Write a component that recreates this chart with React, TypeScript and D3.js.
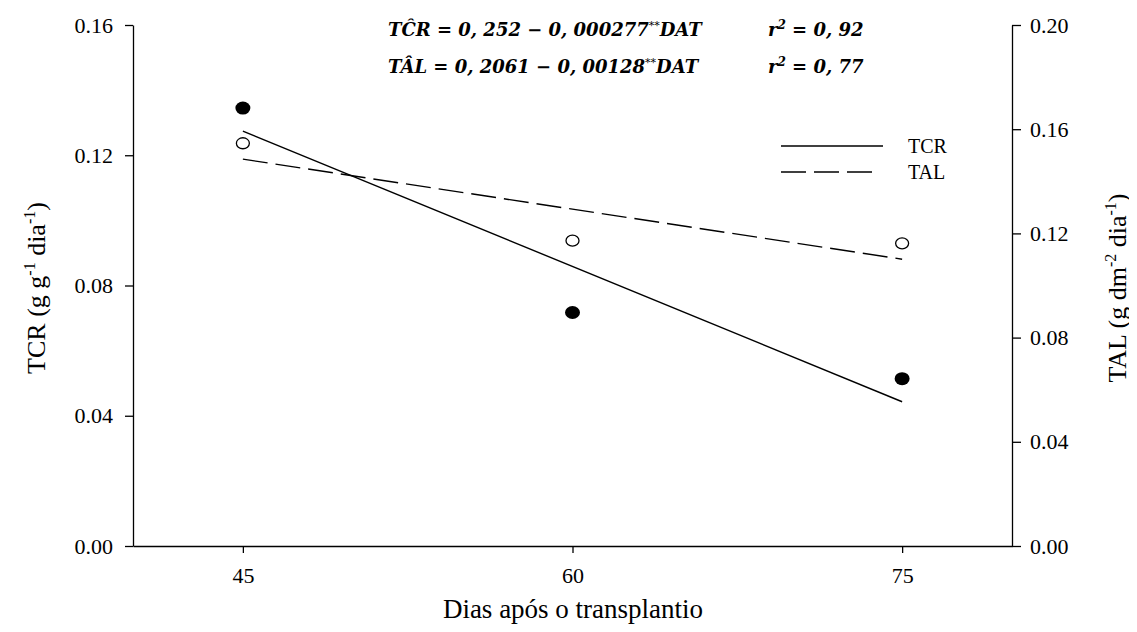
import React, { useEffect, useRef } from "react";
import * as d3 from "d3";

// observed points
const days = [45, 60, 75];
const tcrValues = [0.1345, 0.0717, 0.0514];
const talValues = [0.1546, 0.1172, 0.1162];

// fitted lines (endpoints at first and last day)
const fitDays = [45, 75];
const tcrFit = [0.1274, 0.0443];
const talFit = [0.1485, 0.1101];

const xTicks = [45, 60, 75];
const leftTicks = [0, 0.04, 0.08, 0.12, 0.16];
const rightTicks = [0, 0.04, 0.08, 0.12, 0.16, 0.2];

const FONT = "Liberation Serif, DejaVu Serif, Times New Roman, serif";
const EQ_FONT = "DejaVu Serif, Liberation Serif, serif";
const DASH = "25,8";

export default function App() {
  const svgRef = useRef<SVGSVGElement>(null);

  useEffect(() => {
    const width = 1137;
    const height = 632;
    const left = 133;
    const right = 1012;
    const top = 25;
    const bottom = 546;

    const svg = d3.select(svgRef.current);
    svg.selectAll("*").remove();
    svg.attr("width", width).attr("height", height).style("display", "block").attr("font-family", FONT);

    svg.append("rect").attr("width", width).attr("height", height).attr("fill", "white");

    const x = d3.scaleLinear().domain([40, 80]).range([left, right]);
    const yL = d3.scaleLinear().domain([0, 0.16]).range([bottom, top]);
    const yR = d3.scaleLinear().domain([0, 0.2]).range([bottom, top]);

    const styleAxis = (g: any) => {
      g.attr("font-family", FONT).attr("font-size", 22);
      g.select(".domain").attr("stroke", "black").attr("stroke-width", 1.3);
      g.selectAll(".tick line").attr("stroke", "black").attr("stroke-width", 1.3);
      g.selectAll(".tick text").attr("fill", "black");
    };

    const xAxis = svg
      .append("g")
      .attr("transform", `translate(0,${bottom})`)
      .call(
        d3.axisBottom(x).tickValues(xTicks).tickSize(7).tickSizeOuter(0).tickPadding(14).tickFormat(d3.format("d"))
      );
    styleAxis(xAxis);

    const leftAxis = svg
      .append("g")
      .attr("transform", `translate(${left},0)`)
      .call(d3.axisLeft(yL).tickValues(leftTicks).tickSize(8).tickSizeOuter(0).tickPadding(12).tickFormat(d3.format(".2f")));
    styleAxis(leftAxis);

    const rightAxis = svg
      .append("g")
      .attr("transform", `translate(${right},0)`)
      .call(d3.axisRight(yR).tickValues(rightTicks).tickSize(9).tickSizeOuter(0).tickPadding(9).tickFormat(d3.format(".2f")));
    styleAxis(rightAxis);

    // fitted lines
    const line = (vals: number[], scale: any) =>
      d3.line<number>().x((_, i) => x(fitDays[i])).y((d) => scale(d))(vals);

    svg.append("path").attr("d", line(tcrFit, yL)).attr("fill", "none").attr("stroke", "black").attr("stroke-width", 1.4);
    svg
      .append("path")
      .attr("d", line(talFit, yR))
      .attr("fill", "none")
      .attr("stroke", "black")
      .attr("stroke-width", 1.4)
      .attr("stroke-dasharray", DASH);

    // points
    svg
      .selectAll(".tcr")
      .data(tcrValues)
      .enter()
      .append("ellipse")
      .attr("cx", (_, i) => x(days[i]))
      .attr("cy", (d) => yL(d))
      .attr("rx", 7.5)
      .attr("ry", 6.5)
      .attr("fill", "black");

    svg
      .selectAll(".tal")
      .data(talValues)
      .enter()
      .append("ellipse")
      .attr("cx", (_, i) => x(days[i]))
      .attr("cy", (d) => yR(d))
      .attr("rx", 6.5)
      .attr("ry", 5.5)
      .attr("fill", "white")
      .attr("stroke", "black")
      .attr("stroke-width", 1.3);

    // legend
    const legend = [
      { label: "TCR", dash: null, y: 146 },
      { label: "TAL", dash: DASH, y: 172 },
    ];
    legend.forEach((l) => {
      const ln = svg
        .append("line")
        .attr("x1", 781)
        .attr("x2", 883)
        .attr("y1", l.y)
        .attr("y2", l.y)
        .attr("stroke", "black")
        .attr("stroke-width", 1.3);
      if (l.dash) ln.attr("stroke-dasharray", l.dash).attr("x2", 877);
      svg
        .append("text")
        .attr("x", 908)
        .attr("y", l.y)
        .attr("dy", "0.35em")
        .attr("font-size", 20)
        .text(l.label);
    });

    // equations
    const eqs = [
      { lhs: "TĈR", a: "0, 252", b: "0, 000277", r2: "0, 92", y: 36 },
      { lhs: "TÂL", a: "0, 2061", b: "0, 00128", r2: "0, 77", y: 73 },
    ];
    eqs.forEach((e) => {
      const t = svg
        .append("text")
        .attr("x", 388)
        .attr("y", e.y)
        .attr("font-family", EQ_FONT)
        .attr("font-size", 18)
        .attr("font-weight", "bold")
        .attr("font-style", "italic");
      t.append("tspan").text(`${e.lhs} = ${e.a} − ${e.b}`);
      t.append("tspan").attr("dy", -7).attr("font-size", 11).attr("font-weight", "normal").text("**");
      t.append("tspan").attr("dy", 7).text("DAT");

      const r = svg
        .append("text")
        .attr("x", 768)
        .attr("y", e.y)
        .attr("font-family", EQ_FONT)
        .attr("font-size", 18)
        .attr("font-weight", "bold")
        .attr("font-style", "italic");
      r.append("tspan").text("r");
      r.append("tspan").attr("dy", -7).attr("font-size", 12).text("2");
      r.append("tspan").attr("dy", 7).text(` = ${e.r2}`);
    });

    // axis titles
    const title = (tx: number, ty: number, parts: [string, boolean][]) => {
      const t = svg
        .append("text")
        .attr("transform", `translate(${tx},${ty}) rotate(-90)`)
        .attr("text-anchor", "middle")
        .attr("font-size", 26);
      let sup = false;
      parts.forEach(([s, isSup]) => {
        const sp = t.append("tspan").text(s);
        if (isSup && !sup) sp.attr("dy", -10);
        if (!isSup && sup) sp.attr("dy", 10);
        if (isSup) sp.attr("font-size", 16);
        sup = isSup;
      });
    };
    title(45, 288, [
      ["TCR (g g", false],
      ["-1", true],
      [" dia", false],
      ["-1", true],
      [")", false],
    ]);
    title(1126, 288, [
      ["TAL (g dm", false],
      ["-2", true],
      [" dia", false],
      ["-1", true],
      [")", false],
    ]);

    svg
      .append("text")
      .attr("x", 573)
      .attr("y", 618)
      .attr("text-anchor", "middle")
      .attr("font-size", 27)
      .text("Dias após o transplantio");
  }, []);

  return (
    <div style={{ margin: -8 }}>
      <svg ref={svgRef}></svg>
    </div>
  );
}
